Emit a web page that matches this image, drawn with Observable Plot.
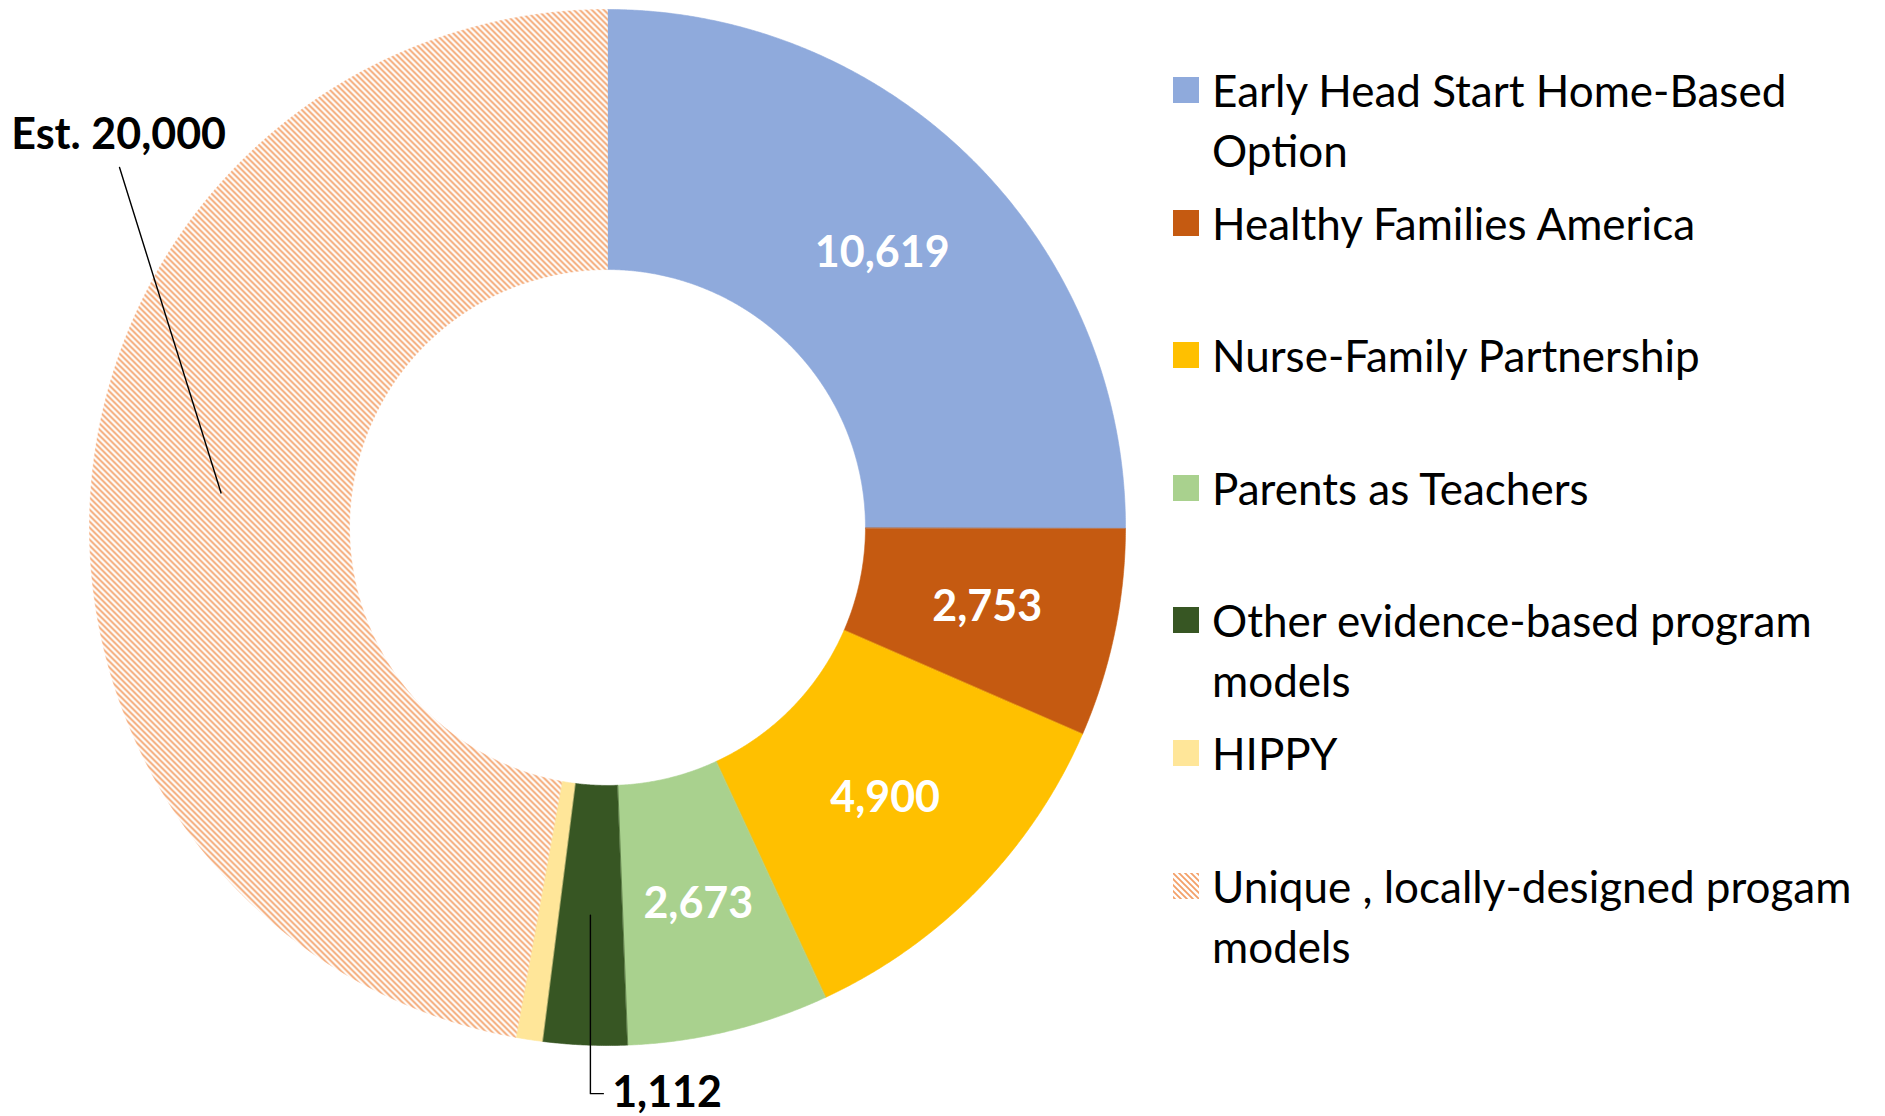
<!DOCTYPE html>
<html><head><meta charset="utf-8">
<script src="https://cdn.jsdelivr.net/npm/d3@7"></script>
<script src="https://cdn.jsdelivr.net/npm/@observablehq/plot@0.6"></script>
<style>
html,body{margin:0;padding:0;background:#fff;overflow:hidden;}
#wrap{position:relative;width:1885px;height:1116px;font-family:Lato,"Open Sans",sans-serif;}
#defs{position:absolute;width:0;height:0;}
#legend{position:absolute;left:1173px;top:0;width:712px;height:1116px;}
.item{position:absolute;left:0;display:flex;align-items:flex-start;}
.sw{width:26px;height:26px;margin-top:17px;flex:none;margin-right:13px;}
.lab{font-size:44px;line-height:60px;width:673px;color:#000;}
</style></head><body>
<svg id="defs" width="0" height="0"><defs>
<pattern id="hatch" width="6" height="6" patternUnits="userSpaceOnUse">
<rect width="6" height="6" fill="#fff"/>
<path d="M-1,-1L7,7M-1,5L1,7M5,-1L7,1" stroke="#F3A068" stroke-width="1.8"/>
</pattern></defs></svg>
<div id="wrap"></div>
<script>
// ---- data ----
const categories = [
  "Early Head Start Home-Based Option",
  "Healthy Families America",
  "Nurse-Family Partnership",
  "Parents as Teachers",
  "Other evidence-based program models",
  "HIPPY",
  "Unique , locally-designed progam models"
];
const values = [10619, 2753, 4900, 2673, 1112, 350, 20000];
const valueLabels = ["10,619", "2,753", "4,900", "2,673", "1,112", "", "Est. 20,000"];
const colors = ["#8FAADC", "#C55A11", "#FFC000", "#A9D18E", "#375623", "#FFE699", "url(#hatch)"];
const labelPlacement = ["inside", "inside", "inside", "inside", "below", "none", "upperLeft"];

// ---- geometry from d3.pie ----
const R1 = 1, R0 = 0.498, RM = (R1 + R0) / 2;
const pie = d3.pie().sort(null).value(d => d)(values);
const pt = (r, a) => ({x: r * Math.sin(a), y: r * Math.cos(a)});
const slices = [];
pie.forEach((p, i) => {
  const n = Math.max(2, Math.ceil((p.endAngle - p.startAngle) / (Math.PI / 720)));
  for (let k = 0; k <= n; k++) {
    const a = p.startAngle + (p.endAngle - p.startAngle) * k / n;
    slices.push({key: i, fill: colors[i], ...pt(R1, a)});
  }
  for (let k = n; k >= 0; k--) {
    const a = p.startAngle + (p.endAngle - p.startAngle) * k / n;
    slices.push({key: i, fill: colors[i], ...pt(R0, a)});
  }
});
const mids = pie.map((p, i) => ({i, ...pt(RM, (p.startAngle + p.endAngle) / 2), text: valueLabels[i]}));
const inside = mids.filter(d => labelPlacement[d.i] === "inside");

// outside labels + leaders (layout offsets in unit-radius space)
const outside = [];
const leaders = [];
mids.forEach(d => {
  if (labelPlacement[d.i] === "below") {
    const yb = -1.093;
    leaders.push({k: d.i, x: d.x, y: d.y}, {k: d.i, x: d.x, y: yb}, {k: d.i, x: d.x + 0.025, y: yb});
    outside.push({x: d.x + 0.042, y: yb, text: d.text});
  } else if (labelPlacement[d.i] === "upperLeft") {
    leaders.push({k: d.i, x: d.x, y: d.y}, {k: d.i, x: -0.942, y: 0.695});
    outside.push({x: -1.151, y: 0.757, text: d.text});
  }
});

const chart = Plot.plot({
  width: 1885, height: 1116,
  margin: 0,
  x: {domain: [-1, 1], range: [89, 1125], axis: null},
  y: {domain: [-1, 1], range: [1045, 9], axis: null},
  color: {type: "identity"},
  style: {fontFamily: "Lato, 'Open Sans', sans-serif", background: "#fff"},
  marks: [
    Plot.line(slices, {x: "x", y: "y", z: "key", fill: "fill", stroke: "fill", strokeWidth: 0.6, curve: "linear-closed"}),
    Plot.line(leaders, {x: "x", y: "y", z: "k", stroke: "#000", strokeWidth: 1.4}),
    Plot.text(inside, {x: "x", y: "y", text: "text", fill: "#fff", fontWeight: "bold", fontSize: 43}),
    Plot.text(outside, {x: "x", y: "y", text: "text", fill: "#000", fontWeight: "bold", fontSize: 43, textAnchor: "start"})
  ]
});
document.getElementById("wrap").appendChild(chart);

// ---- legend ----
const legend = document.createElement("div");
legend.id = "legend";
categories.forEach((c, i) => {
  const item = document.createElement("div");
  item.className = "item";
  item.style.top = (60 + i * 132.6) + "px";
  const sw = document.createElement("div");
  sw.className = "sw";
  if (colors[i].startsWith("url")) {
    sw.innerHTML = `<svg width="26" height="26"><rect width="26" height="26" fill="${colors[i]}"/></svg>`;
  } else {
    sw.style.background = colors[i];
  }
  const lab = document.createElement("div");
  lab.className = "lab";
  lab.textContent = c;
  item.appendChild(sw);
  item.appendChild(lab);
  legend.appendChild(item);
});
document.getElementById("wrap").appendChild(legend);
</script>
</body></html>
